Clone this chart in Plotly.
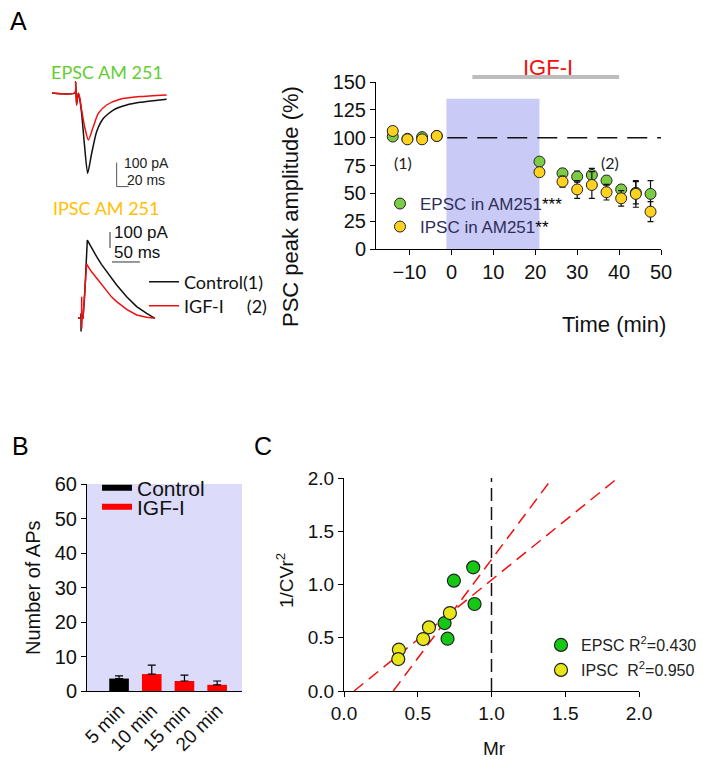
import plotly.graph_objects as go

# The page places the figure 8 px from the top-left corner of the window.
OFF = 8
W, H = 711 - OFF, 767 - OFF
def px(x): return (x - OFF) / W
def py(y): return 1 - (y - OFF) / H

# ---------------- Panel A (right): PSC amplitude time course ----------------
time_min = [-14, -10.5, -7, -3.5, 21, 26.5, 30, 33.5, 37, 40.5, 44, 47.5]
epsc_amp = [101, 99, 100.5, 101.5, 78.5, 68, 65, 66.5, 61.5, 53.5, 50.5, 49.5]
epsc_err = [2, 2, 1.5, 1.5, 3, 4, 5, 6, 4, 4, 10, 12]
ipsc_amp = [106, 98.5, 98.5, 101.5, 69, 60.5, 53.5, 57.5, 51, 45.5, 49.5, 33.5]
ipsc_err = [2, 2, 1.5, 1.5, 3, 5, 8, 12, 7, 7, 12, 9]
igf_period = [5, 40]
igf_bar_level = [154.5, 154.5]
a_xticks = [-10, 0, 10, 20, 30, 40, 50]
a_yticks = [0, 25, 50, 75, 100, 125, 150]

# ---------------- Panel A (left): example traces ----------------
epsc_ctrl_t = [0, 38.3, 39.5, 41, 43.9, 46, 49.5, 54, 59.5, 66.2, 74.5, 85.6, 102.4, 124.7, 147, 169, 191.5]
epsc_ctrl_i = [0, 0, 47, -50, -1, -20, -85, -210, -335, -252, -161, -106, -71, -50, -39, -32, -26]
epsc_igf_t = [0, 38.3, 39.5, 41, 43.9, 46, 49.5, 55.1, 60.7, 69, 77.3, 91.3, 113.6, 147, 191.5]
epsc_igf_i = [0, 0, 47, -50, -1, -15, -71, -147, -196, -140, -85, -50, -26, -15, -8]
epsc_sb_t = [108, 108, 128]
epsc_sb_i = [-290, -390, -390]

ipsc_ctrl_t = [0, 5, 5.5, 5.5, 6, 9, 12, 16.7, 24, 33.4, 42, 51.3, 60, 69.2, 87.1, 105, 122.9, 137.8]
ipsc_ctrl_i = [0, 0, 29, -85, 0, 0, 150, 487, 440, 383, 335, 290, 245, 206, 133, 71, 29, -2]
ipsc_igf_t = [0, 6.5, 6.6, 6.7, 7.5, 9, 12, 15.5, 24, 33.4, 42, 51.3, 60, 69.2, 87.1, 105, 122.9, 137.8]
ipsc_igf_i = [0, 0, 133, -65, 0, 0, 180, 337, 290, 248, 205, 165, 132, 102, 54, 19, 4, -2]
ipsc_sb_v_t = [57.3, 57.3]
ipsc_sb_v_i = [537.5, 437.5]
ipsc_sb_h_t = [60.9, 110.9]
ipsc_sb_h_i = [350, 350]

# ---------------- Panel B: number of APs ----------------
b_ctrl_cat = ['5 min']
b_ctrl_val = [3.6]
b_ctrl_err = [0.8]
b_igf_cat = ['10 min', '15 min', '20 min']
b_igf_val = [4.9, 2.9, 1.8]
b_igf_err = [2.6, 1.7, 1.1]
b_categories = ['5 min', '10 min', '15 min', '20 min']

# ---------------- Panel C: 1/CV^2 vs Mr ----------------
epsc_mr = [0.876, 0.745, 0.885, 0.682, 0.702]
epsc_cv = [1.161, 1.036, 0.817, 0.638, 0.491]
ipsc_mr = [0.372, 0.368, 0.537, 0.576, 0.718]
ipsc_cv = [0.388, 0.300, 0.488, 0.598, 0.732]
fit_epsc_x = [0.334, 1.413]
fit_epsc_y = [0.0, 2.0]
fit_ipsc_x = [0.068, 1.842]
fit_ipsc_y = [0.0, 1.984]
c_ticks = [0, 0.5, 1.0, 1.5, 2.0]

ARIAL = "Liberation Sans, Arial, sans-serif"
CALI = "Lato, Open Sans, sans-serif"
GREEN_A = '#7CCB44'
YELLOW_A = '#FFD21F'
GREEN_C = '#14C814'
YELLOW_C = '#E8E61A'

fig = go.Figure()

# ---- Panel A right ----
fig.add_trace(go.Scatter(
    x=time_min, y=epsc_amp, mode='markers', xaxis='x', yaxis='y',
    error_y=dict(type='data', array=epsc_err, color='#111', thickness=1.2, width=3),
    marker=dict(size=11, color=GREEN_A, line=dict(color='#222', width=1)),
    name="EPSC in AM251<span style='color:#000'>***</span>", legend='legend'))
fig.add_trace(go.Scatter(
    x=time_min, y=ipsc_amp, mode='markers', xaxis='x', yaxis='y',
    error_y=dict(type='data', array=ipsc_err, color='#111', thickness=1.2, width=3),
    marker=dict(size=11, color=YELLOW_A, line=dict(color='#222', width=1)),
    name="IPSC in AM251<span style='color:#000'>**</span>", legend='legend5'))
fig.add_trace(go.Scatter(
    x=igf_period, y=igf_bar_level, mode='lines', xaxis='x6', yaxis='y6',
    line=dict(color='#BDBDBD', width=4), showlegend=False))

# ---- Traces ----
fig.add_trace(go.Scatter(x=epsc_ctrl_t, y=epsc_ctrl_i, mode='lines', xaxis='x4', yaxis='y4',
                         line=dict(color='#111', width=1.5, shape='spline', smoothing=0.6), showlegend=False))
fig.add_trace(go.Scatter(x=epsc_igf_t, y=epsc_igf_i, mode='lines', xaxis='x4', yaxis='y4',
                         line=dict(color='#F01010', width=1.5, shape='spline', smoothing=0.6), showlegend=False))
fig.add_trace(go.Scatter(x=epsc_sb_t, y=epsc_sb_i, mode='lines', xaxis='x4', yaxis='y4',
                         line=dict(color='#555', width=1), showlegend=False))
fig.add_trace(go.Scatter(x=ipsc_ctrl_t, y=ipsc_ctrl_i, mode='lines', xaxis='x5', yaxis='y5',
                         line=dict(color='#111', width=1.5), name='Control(1)', legend='legend2'))
fig.add_trace(go.Scatter(x=ipsc_igf_t, y=ipsc_igf_i, mode='lines', xaxis='x5', yaxis='y5',
                         line=dict(color='#F01010', width=1.5),
                         name='IGF-I\u00a0\u00a0\u00a0\u00a0\u00a0(2)', legend='legend6'))
fig.add_trace(go.Scatter(x=ipsc_sb_v_t, y=ipsc_sb_v_i, mode='lines', xaxis='x5', yaxis='y5',
                         line=dict(color='#333', width=1), showlegend=False))
fig.add_trace(go.Scatter(x=ipsc_sb_h_t, y=ipsc_sb_h_i, mode='lines', xaxis='x5', yaxis='y5',
                         line=dict(color='#333', width=1), showlegend=False))

# ---- Panel B ----
fig.add_trace(go.Bar(x=b_ctrl_cat, y=b_ctrl_val, xaxis='x2', yaxis='y2', width=0.6,
                     marker=dict(color='#000', line=dict(width=0)),
                     error_y=dict(type='data', array=b_ctrl_err, arrayminus=[0] * len(b_ctrl_err),
                                  color='#000', thickness=1.2, width=4),
                     showlegend=False))
fig.add_trace(go.Bar(x=b_igf_cat, y=b_igf_val, xaxis='x2', yaxis='y2', width=0.6,
                     marker=dict(color='#FF0000', line=dict(width=0)),
                     error_y=dict(type='data', array=b_igf_err, arrayminus=[0] * len(b_igf_err),
                                  color='#000', thickness=1.2, width=4),
                     showlegend=False))
fig.add_trace(go.Scatter(x=[None], y=[None], mode='lines', xaxis='x2', yaxis='y2',
                         line=dict(color='#000', width=6), name='Control', legend='legend3'))
fig.add_trace(go.Scatter(x=[None], y=[None], mode='lines', xaxis='x2', yaxis='y2',
                         line=dict(color='#FF0000', width=6), name='IGF-I', legend='legend7'))

# ---- Panel C ----
fig.add_trace(go.Scatter(x=fit_epsc_x, y=fit_epsc_y, mode='lines', xaxis='x3', yaxis='y3',
                         line=dict(color='#F01010', width=1.5, dash='12px,7px'), showlegend=False))
fig.add_trace(go.Scatter(x=fit_ipsc_x, y=fit_ipsc_y, mode='lines', xaxis='x3', yaxis='y3',
                         line=dict(color='#F01010', width=1.5, dash='12px,7px'), showlegend=False))
fig.add_trace(go.Scatter(x=epsc_mr, y=epsc_cv, mode='markers', xaxis='x3', yaxis='y3',
                         marker=dict(size=13, color=GREEN_C, line=dict(color='#222', width=1.2)),
                         name='EPSC R<sup>2</sup>=0.430', legend='legend4'))
fig.add_trace(go.Scatter(x=ipsc_mr, y=ipsc_cv, mode='markers', xaxis='x3', yaxis='y3',
                         marker=dict(size=13, color=YELLOW_C, line=dict(color='#222', width=1.2)),
                         name='IPSC\u00a0 R<sup>2</sup>=0.950', legend='legend8'))

def axis_common(size):
    return dict(showgrid=False, zeroline=False, linecolor='#000', linewidth=1,
                ticks='outside', ticklen=5, tickwidth=1, tickcolor='#000', automargin=False,
                tickfont=dict(family=ARIAL, size=size, color='#111'))
hidden = dict(visible=False, showgrid=False, zeroline=False)

shapes = [
    dict(type='rect', xref='x', yref='y', x0=-1.2, x1=21, y0=0, y1=135,
         fillcolor='#CACAF7', line=dict(width=0), layer='below'),
    dict(type='line', xref='x', yref='y', x0=-1, x1=50, y0=100, y1=100,
         line=dict(color='#111', width=1.5, dash='20px,10px')),
    dict(type='rect', xref='x2 domain', yref='y2 domain', x0=0, x1=1, y0=0, y1=1,
         fillcolor='#DCDCFA', line=dict(width=0), layer='below'),
    dict(type='line', xref='x3', yref='y3', x0=1, x1=1, y0=0, y1=2,
         line=dict(color='#111', width=1.5, dash='13px,6px')),
]

def ann(x, y, text, size, color='#111', family=ARIAL, xanchor='center', yanchor='middle', angle=0, xref='paper', yref='paper'):
    return dict(x=x, y=y, xref=xref, yref=yref, text=text, showarrow=False,
                font=dict(family=family, size=size, color=color),
                xanchor=xanchor, yanchor=yanchor, textangle=angle)

annotations = [
    ann(px(18), py(21), 'A', 25, '#000'),
    ann(px(20), py(446), 'B', 25, '#000'),
    ann(px(263), py(446), 'C', 25, '#000'),
    ann(px(107), py(72), 'EPSC AM 251', 18, '#66CC33', CALI),
    ann(px(106), py(208), 'IPSC AM 251', 18, '#FFC000', CALI),
    ann(px(122), py(163), '100 pA', 14, '#222', xanchor='left'),
    ann(px(125), py(180), '20 ms', 14, '#222', xanchor='left'),
    ann(px(112), py(232), '100 pA', 17, '#111', xanchor='left'),
    ann(px(112), py(252), '50 ms', 17, '#111', xanchor='left'),
    ann(px(403), py(162), '(1)', 16, '#222', CALI),
    ann(px(610), py(162), '(2)', 16, '#222', CALI),
    ann(23, py(68), 'IGF-I', 22, '#F01010', xref='x'),
    ann(px(290), py(207), 'PSC peak amplitude (%)', 22, '#111', angle=-90),
    ann(px(668), py(325), 'Time (min)', 22, '#111', xanchor='right'),
    ann(px(33), py(588), 'Number of APs', 20, '#111', angle=-90),
    ann(px(285), py(581), '1/CVr<sup>2</sup>', 19, '#111', angle=-90),
    ann(px(494), py(748), 'Mr', 19, '#111'),
]

def leg(left, cy, size, color='#111', family=ARIAL):
    return dict(x=px(left), y=py(cy), xanchor='left', yanchor='middle', itemwidth=30,
                bgcolor='rgba(0,0,0,0)', font=dict(family=family, size=size, color=color))

fig.update_layout(
    width=W, height=H, margin=dict(l=0, r=0, t=0, b=0, pad=0, autoexpand=False),
    paper_bgcolor='white', plot_bgcolor='rgba(0,0,0,0)',
    font=dict(family=ARIAL, color='#111'),
    showlegend=True, barmode='overlay',
    xaxis=dict(domain=[px(376), px(661)], range=[-18, 50], anchor='y', tickvals=a_xticks, showline=True, **axis_common(20)),
    yaxis=dict(domain=[py(249), py(82)], range=[0, 150], anchor='x', tickvals=a_yticks, showline=True, **axis_common(20)),
    xaxis6=dict(domain=[px(376), px(661)], range=[-18, 50], anchor='y6', **hidden),
    yaxis6=dict(domain=[py(82), py(60)], range=[150, 169.8], anchor='x6', **hidden),
    xaxis2=dict(domain=[px(87), px(242)], type='category', categoryarray=b_categories, categoryorder='array',
                range=[-0.98, 3.76], anchor='y2', showline=True,
                **{**axis_common(19), 'ticks': '', 'tickangle': -45}),
    yaxis2=dict(domain=[py(691), py(484)], range=[0, 60], dtick=10, anchor='x2', showline=True, **axis_common(20)),
    xaxis3=dict(domain=[px(344), px(639)], range=[0, 2], tickvals=c_ticks, tickformat='.1f', anchor='y3', showline=True, **axis_common(19)),
    yaxis3=dict(domain=[py(691), py(478)], range=[0, 2], tickvals=c_ticks, tickformat='.1f', anchor='x3', showline=True, **axis_common(19)),
    xaxis4=dict(domain=[px(45), px(180)], range=[-11.7, 213.8], anchor='y4', **hidden),
    yaxis4=dict(domain=[py(195), py(75)], range=[-425, 75], anchor='x4', **hidden),
    xaxis5=dict(domain=[px(70), px(180)], range=[-14.3, 182.6], anchor='y5', **hidden),
    yaxis5=dict(domain=[py(340), py(225)], range=[-137.5, 581], anchor='x5', **hidden),
    legend=leg(380, 204, 17, '#2E2E5A'),
    legend5=leg(380, 227, 17, '#2E2E5A'),
    legend2=leg(144, 282, 18, '#111', CALI),
    legend6=leg(144, 306, 18, '#111', CALI),
    legend3=leg(97, 488, 21),
    legend7=leg(97, 507, 21),
    legend4=leg(541, 645, 16, '#222'),
    legend8=leg(541, 670, 16, '#222'),
    shapes=shapes, annotations=annotations,
)

fig.write_html("out.html")
